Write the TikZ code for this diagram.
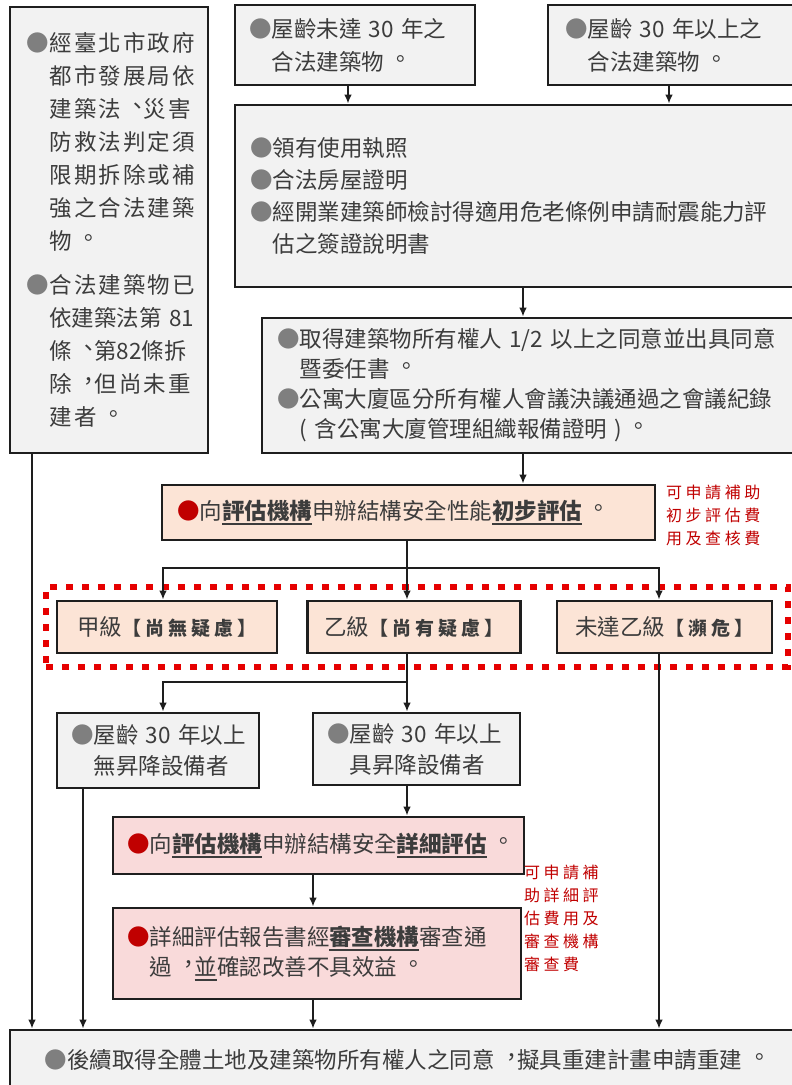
\documentclass[tikz,border=0pt]{standalone}
\usepackage{fontspec}
\usepackage{xcolor}
\setmainfont{Noto Sans CJK TC}
\newfontfamily\cjkwide{Noto Sans CJK TC}[LetterSpace=9]
\newfontfamily\cjknote{Noto Sans CJK TC}[LetterSpace=22]
\usetikzlibrary{fit,arrows.meta}

\definecolor{frame}{HTML}{1E1E1E}
\definecolor{txt}{HTML}{3C3C3C}
\definecolor{bulgray}{HTML}{7F7F7F}
\definecolor{bulred}{HTML}{C00000}
\definecolor{notered}{HTML}{C00000}
\definecolor{graybg}{HTML}{F2F2F2}
\definecolor{peachbg}{HTML}{FCE4D6}
\definecolor{pinkbg}{HTML}{F9DADA}
\definecolor{dashred}{HTML}{E60000}

\newcommand{\gb}{\textcolor{bulgray}{●}}
\newcommand{\rb}{\textcolor{bulred}{●}}
\newcommand{\ind}{\hspace*{1em}}
\newcommand{\tcp}[1]{\makebox[1em][l]{\hspace{0.25em}\raisebox{0.13em}{\makebox[0.75em][l]{#1}}}}
\newcommand{\uln}[1]{\setbox0\hbox{#1}\rlap{\rule[-6pt]{\wd0}{1.8pt}}\box0}
\newcommand{\kw}[1]{\uln{\bfseries #1}}
\newcommand{\gradenote}[1]{{\fontsize{19}{19}\cjknote\bfseries #1}}

\begin{document}
\begin{tikzpicture}[
    x                  = 1pt,
    y                  = -1pt,
    every node/.style  = {font=\fontsize{22.5}{33}\selectfont, text=txt},
    box/.style         = {rectangle, draw=frame, line width=2.6pt, fill=graybg,
                          align=left, inner ysep=0pt},
    grade/.style       = {box, fill=peachbg, align=center, minimum height=52pt},
    note/.style        = {anchor=north west, inner sep=0pt, align=left, text=notered,
                          font=\fontsize{16}{23}\cjknote},
    arr/.style         = {draw=frame, line width=2pt, -{Latex[length=9pt,width=7.5pt]}},
  ]
\useasboundingbox (0,0) rectangle (792,1085);

% top row
\node[box, minimum width=198pt, minimum height=446pt, text width=164pt, inner xsep=17pt,
      font=\fontsize{22.5}{33}\cjkwide] (L) at (109,230)
     {\gb 經臺北市政府\\ \ind 都市發展局依\\ \ind 建築法\tcp{、}災害\\ \ind 防救法判定須\\
      \ind 限期拆除或補\\ \ind 強之合法建築\\ \ind 物\tcp{。}\\[11pt]
      \gb 合法建築物已\\ \ind {\rmfamily 依建築法第~81}\\ \ind {\rmfamily 條\tcp{、}第82條拆}\\
      \ind 除\tcp{，}但尚未重\\ \ind 建者\tcp{。}};
\node[box, minimum width=240pt, minimum height=80pt, text width=212pt, inner xsep=14pt] (A) at (355,45)
     {\gb 屋齡未達~30~年之\\ \ind 合法建築物\tcp{。}};
\node[box, minimum width=252pt, minimum height=80pt, text width=218pt, inner xsep=17pt] (B) at (674,45)
     {\gb 屋齡~30~年以上之\\ \ind 合法建築物\tcp{。}};
\node[box, minimum width=565pt, minimum height=182pt, text width=535pt, inner xsep=15pt,
      font=\fontsize{22.5}{32}\selectfont] (C) at (517.5,196)
     {\gb 領有使用執照\\ \gb 合法房屋證明\\ \gb 經開業建築師檢討得適用危老條例申請耐震能力評\\ \ind 估之簽證說明書};
\node[box, minimum width=538pt, minimum height=135pt, text width=508pt, inner xsep=15pt,
      font=\fontsize{22.5}{30}\selectfont] (D) at (531,385.5)
     {\gb 取得建築物所有權人~1/2~以上之同意並出具同意\\ \ind 暨委任書\tcp{。}\\
      \gb 公寓大廈區分所有權人會議決議通過之會議紀錄\\ \ind (~含公寓大廈管理組織報備證明~)\tcp{。}};

% preliminary assessment
\node[box, fill=peachbg, minimum width=493pt, minimum height=55pt, text width=463pt, inner xsep=15pt] (E) at (408.5,512.5)
     {\rb 向\kw{評估機構}申辦結構安全性能\kw{初步評估}\tcp{。}};
\node[note] (fee1) at (666,485) {可申請補助\\初步評估費\\用及查核費};

% grades
\node[grade, minimum width=220pt] (G1) at (167,627) {甲級\gradenote{【尚無疑慮】}};
\node[grade, minimum width=213pt] (G2) at (414,627) {乙級\gradenote{【尚有疑慮】}};
\node[grade, minimum width=215pt] (G3) at (664.5,627) {未達乙級\gradenote{【瀕危】}};
\node[draw=dashred, line width=6.5pt, dash pattern=on 7pt off 9pt, fit=(G1)(G3),
      inner xsep=12pt, inner ysep=12.5pt, xshift=2.5pt] (zone) {};

% elevator or not
\node[box, minimum width=202pt, minimum height=75pt, text width=174pt, inner xsep=14pt,
      font=\fontsize{22.5}{31}\selectfont] (F) at (158,750.5)
     {\gb 屋齡~30~年以上\\ \ind 無昇降設備者};
\node[box, minimum width=207pt, minimum height=72pt, text width=179pt, inner xsep=14pt,
      font=\fontsize{22.5}{31}\selectfont] (G) at (416.5,749)
     {\gb 屋齡~30~年以上\\ \ind 具昇降設備者};

% detailed assessment
\node[box, fill=pinkbg, minimum width=411pt, minimum height=57pt, text width=383pt, inner xsep=14pt] (H) at (318.5,845.5)
     {\rb 向\kw{評估機構}申辦結構安全\kw{詳細評估}\tcp{。}};
\node[box, fill=pinkbg, minimum width=408pt, minimum height=91pt, text width=380pt, inner xsep=14pt,
      font=\fontsize{22.5}{30}\selectfont] (I) at (317,953.5)
     {\rb 詳細評估報告書經\kw{審查機構}審查通\\ \ind 過\tcp{，}\uln{並}確認改善不具效益\tcp{。}};
\node[note] (fee2) at (524,865) {可申請補\\助詳細評\\估費用及\\審查機構\\審查費};

% rebuild
\node[box, align=center, minimum width=790pt, minimum height=60pt] (J) at (405,1060)
     {\gb 後續取得全體土地及建築物所有權人之同意\tcp{，}擬具重建計畫申請重建\tcp{。}};

% connectors
\draw[arr] ([xshift=-7pt]A.south) -- ([xshift=-7pt]A.south |- C.north);
\draw[arr] ([xshift=-5pt]B.south) -- ([xshift=-5pt]B.south |- C.north);
\draw[arr] ([xshift=5.5pt]C.south) -- ([xshift=5.5pt]C.south |- D.north);
\draw[arr] ([xshift=-8pt]D.south) -- ([xshift=-8pt]D.south |- E.north);
\draw[arr] ([xshift=-1.5pt]E.south) -- ([xshift=-1.5pt]E.south |- G2.north);
\coordinate (split1) at ([xshift=-1.5pt,yshift=-27pt]E.south);
\draw[arr] (split1) -| ([xshift=-4pt]G1.north);
\draw[arr] (split1) -| ([xshift=-5.5pt]G3.north);
\draw[arr] ([xshift=-7pt]G2.south) -- ([xshift=-7pt]G2.south |- G.north);
\coordinate (split2) at ([xshift=-7pt,yshift=-28pt]G2.south);
\draw[arr] (split2) -| ([xshift=5pt]F.north);
\draw[arr] ([xshift=-9.5pt]G.south) -- ([xshift=-9.5pt]G.south |- H.north);
\draw[arr] ([xshift=-5.5pt]H.south) -- ([xshift=-5.5pt]H.south |- I.north);
\draw[arr] ([xshift=-4pt]I.south) -- ([xshift=-4pt]I.south |- J.north);
\draw[arr] ([xshift=-77pt]L.south) -- ([xshift=-77pt]L.south |- J.north);
\draw[arr] ([xshift=-75pt]F.south) -- ([xshift=-75pt]F.south |- J.north);
\draw[arr] ([xshift=-5.5pt]G3.south) -- ([xshift=-5.5pt]G3.south |- J.north);
\end{tikzpicture}
\end{document}
